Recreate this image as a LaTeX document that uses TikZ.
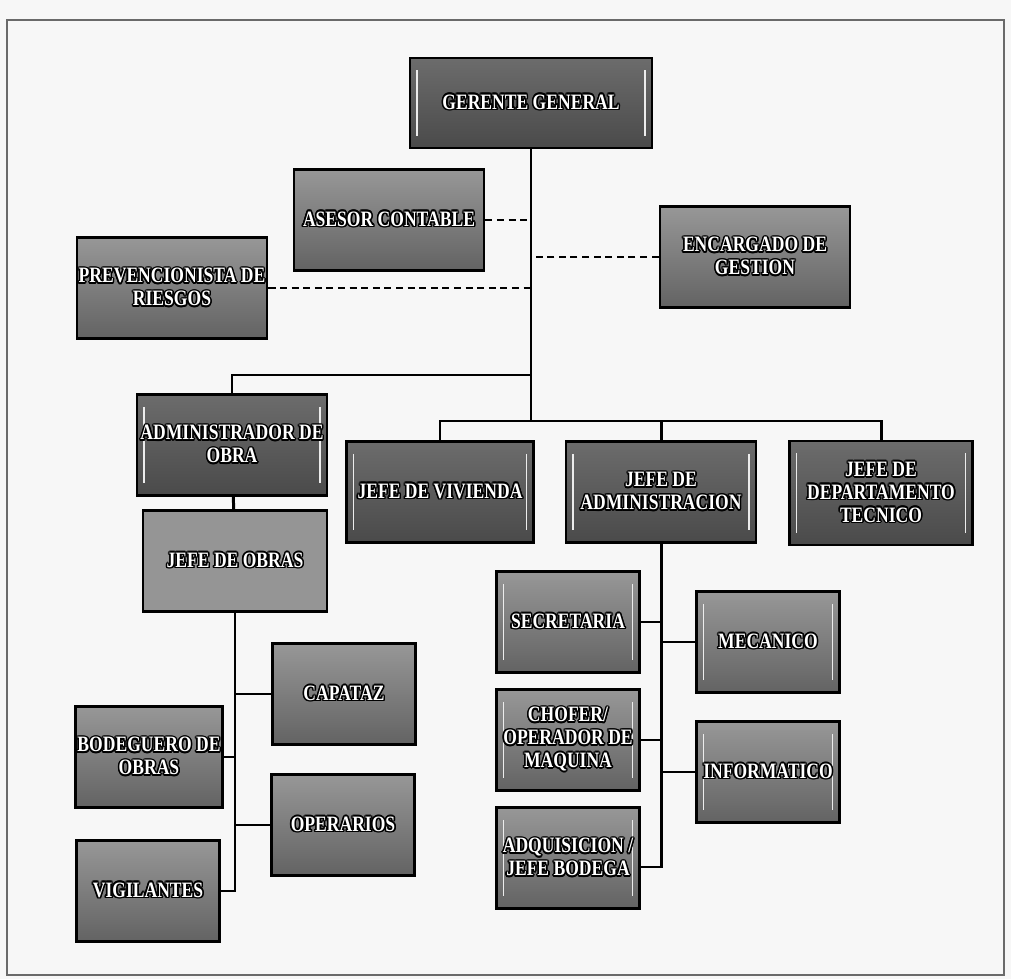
\documentclass[tikz,border=0pt]{standalone}
\usepackage{fontspec}
\usepackage{contour}
\contourlength{0.9pt}
\contournumber{12}
\newfontfamily\orgfont[FakeStretch=0.8]{Liberation Serif}
\newcommand{\ol}[1]{\contour{black}{#1}}

\definecolor{pagebg}{HTML}{F7F7F7}
\definecolor{framegray}{HTML}{6A6A6A}
\definecolor{darktop}{HTML}{6C6C6C}
\definecolor{darkbot}{HTML}{4A4A4A}
\definecolor{greytop}{HTML}{979797}
\definecolor{greybot}{HTML}{636363}
\definecolor{lighttop}{HTML}{959595}

\begin{document}
\begin{tikzpicture}
  [x=0.02cm,y=-0.02cm,
   box/.style={rectangle,draw=black,line width=1.6pt,text=white,align=center,inner sep=1pt,
     font=\orgfont\bfseries\fontsize{12.5}{13}\selectfont},
   bevel/.style={path picture={
     \draw[white!85!gray,line width=0.9pt]
       ([xshift=4pt,yshift=-7pt]path picture bounding box.north west) --
       ([xshift=4pt,yshift=7pt]path picture bounding box.south west);
     \draw[white!85!gray,line width=0.9pt]
       ([xshift=-4pt,yshift=-7pt]path picture bounding box.north east) --
       ([xshift=-4pt,yshift=7pt]path picture bounding box.south east);}},
   darkbox/.style={box,bevel,top color=darktop,bottom color=darkbot},
   greybox/.style={box,top color=greytop,bottom color=greybot},
   wide/.style={minimum width=3.8cm,minimum height=2.02cm},
   small/.style={minimum width=2.86cm,minimum height=2.02cm},
   link/.style={line width=1.7pt},
   staff/.style={line width=1.7pt,dash pattern=on 4pt off 2.6pt}]

  % page and frame
  \fill[pagebg] (0,0) rectangle (1011,979);
  \draw[framegray,line width=1.1pt] (7,20) rectangle (1004,975);

  % top
  \node[darkbox,minimum width=4.84cm,minimum height=1.8cm] (ger) at (531,103) {\ol{GERENTE  GENERAL}};
  \node[greybox,wide] (ase) at (389,220) {\ol{ASESOR CONTABLE}};
  \node[greybox,wide] (enc) at (755,257) {\ol{ENCARGADO DE}\\\ol{GESTION}};
  \node[greybox,wide] (pre) at (172,288) {\ol{PREVENCIONISTA DE}\\\ol{RIESGOS}};

  % second level
  \node[darkbox,wide] (adm) at (232,445) {\ol{ADMINISTRADOR DE}\\\ol{OBRA}};
  \node[darkbox,wide,minimum width=3.74cm] (viv) at (440,492) {\ol{JEFE DE VIVIENDA}};
  \node[darkbox,wide] (jad) at (661,492) {\ol{JEFE DE}\\\ol{ADMINISTRACION}};
  \node[darkbox,wide,minimum width=3.66cm,minimum height=2.08cm] (dep) at (881,493) {\ol{JEFE DE}\\\ol{DEPARTAMENTO}\\\ol{TECNICO}};
  \node[box,wide,minimum width=3.68cm,fill=lighttop] (obr) at (235,561) {\ol{JEFE DE OBRAS}};

  % obra staff
  \node[greybox,small] (cap) at (344,694) {\ol{CAPATAZ}};
  \node[greybox,small] (ope) at (343,825) {\ol{OPERARIOS}};
  \node[greybox,small] (bod) at (149,757) {\ol{BODEGUERO DE}\\\ol{OBRAS}};
  \node[greybox,small] (vig) at (148,891) {\ol{VIGILANTES}};

  % administracion staff
  \node[greybox,bevel,small] (sec) at (568,622) {\ol{SECRETARIA}};
  \node[greybox,bevel,small] (cho) at (568,740) {\ol{CHOFER/}\\\ol{OPERADOR DE}\\\ol{MAQUINA}};
  \node[greybox,bevel,small] (adq) at (568,858) {\ol{ADQUISICION /}\\\ol{JEFE BODEGA}};
  \node[greybox,bevel,small] (mec) at (768,642) {\ol{MECANICO}};
  \node[greybox,bevel,small] (inf) at (768,772) {\ol{INFORMATICO}};

  \coordinate (top) at (531,375);
  \coordinate (bus) at (531,421);

  \draw[link] (ger) -- (bus);
  \draw[staff] (ase) -- (ase -| ger.south);
  \draw[staff] (enc) -- (enc -| ger.south);
  \draw[staff] (pre) -- (pre -| ger.south);
  \draw[link] (top) -| (adm);
  \draw[link] (viv) |- (bus) -| (dep);
  \draw[link] (bus) -| (jad);
  \draw[link] (adm) -- (obr);

  \draw[link] (obr) |- (vig);
  \draw[link] (cap) -- (cap -| obr.south);
  \draw[link] (ope) -- (ope -| obr.south);
  \draw[link] (bod) -- (bod -| obr.south);

  \draw[link] (jad) |- ([yshift=-0.18cm]adq.east);
  \draw[link] (sec) -- (sec -| jad.south);
  \draw[link] (cho) -- (cho -| jad.south);
  \draw[link] (mec) -- (mec -| jad.south);
  \draw[link] (inf) -- (inf -| jad.south);

\end{tikzpicture}
\end{document}
